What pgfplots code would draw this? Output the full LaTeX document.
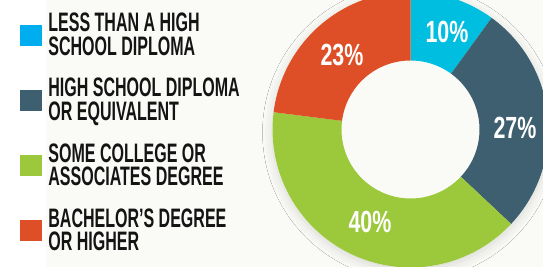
\documentclass[border=0pt]{standalone}
\usepackage{pgfplots}
\pgfplotsset{compat=1.18}
\usepackage{pgfplotstable}
\usepackage{fontspec}
\setmainfont{Liberation Sans}
\newfontfamily\legfont{Liberation Sans}[FakeStretch=0.60]
\newfontfamily\pctfont{Liberation Sans}[FakeStretch=0.70]
\usetikzlibrary{shadows.blur}

\definecolor{bg}{HTML}{FAFBF6}
\definecolor{pcyan}{HTML}{00BEE0}
\definecolor{lcyan}{HTML}{00ADEE}
\definecolor{cslate}{HTML}{3E5F70}
\definecolor{cgreen}{HTML}{9CC83B}
\definecolor{corange}{HTML}{DE4F27}
\definecolor{ink}{HTML}{141414}

% shares of each group, in percent (clockwise from the top)
\pgfplotstableread{
pct
10
27
40
23
}\shares

\pgfplotstablegetelem{0}{pct}\of\shares\edef\pA{\pgfplotsretval}
\pgfplotstablegetelem{1}{pct}\of\shares\edef\pB{\pgfplotsretval}
\pgfplotstablegetelem{2}{pct}\of\shares\edef\pC{\pgfplotsretval}
\pgfplotstablegetelem{3}{pct}\of\shares\edef\pD{\pgfplotsretval}
\pgfmathsetmacro\cA{\pA}
\pgfmathsetmacro\cB{\cA+\pB}
\pgfmathsetmacro\cC{\cB+\pC}
\pgfmathsetmacro\cD{\cC+\pD}

\def\cx{410.5}\def\cy{137.5}\def\ro{138}\def\ri{69}

% ring sector from percentage #2 to percentage #3
\newcommand\slice[3]{%
  \addplot[fill=#1, draw=none, forget plot, samples at={0,1,...,60,100,101,...,160}, variable=\t]
   ({\cx + (\t<80 ? \ro : \ri)*cos(90-3.6*(#2+(#3-#2)*(\t<80 ? \t/60 : (160-\t)/60)))},
    {\cy + (\t<80 ? \ro : \ri)*sin(90-3.6*(#2+(#3-#2)*(\t<80 ? \t/60 : (160-\t)/60)))});
}

\begin{document}
\begin{tikzpicture}
\begin{axis}[
  width=543bp, height=267bp, scale only axis,
  xmin=0, xmax=543, ymin=0, ymax=267,
  hide axis, clip=true,
  legend style={at={(axis cs:20,253.7)}, anchor=north west, draw=none, fill=none,
    inner sep=0pt, outer sep=0pt, row sep=21.6bp, column sep=7.3bp,
    nodes={inner sep=0pt, outer sep=0pt, align=left, text=ink,
      font=\legfont\bfseries\fontsize{26.8}{23.4}\selectfont}},
  legend cell align=left,
  legend image code/.code={\fill[#1] (0bp,-10.3bp) rectangle (20.7bp,10.3bp);},
]
% background
\addplot[fill=bg, draw=none, forget plot] coordinates {(0,0) (543,0) (543,267) (0,267)};
\addplot[fill=white, draw=none, forget plot] coordinates {(0,0) (46,0) (46,267) (0,267)};
% shadow disc under the ring
\addplot[fill=bg, draw=none, forget plot,
  blur shadow={shadow xshift=0bp, shadow yshift=-3bp, shadow blur radius=10bp, shadow opacity=14},
  samples at={0,...,120}, variable=\t]
  ({\cx+\ro*cos(3*\t)},{\cy+\ro*sin(3*\t)});
% ring sectors
\slice{pcyan}{0}{\cA}
\slice{cslate}{\cA}{\cB}
\slice{cgreen}{\cB}{\cC}
\slice{corange}{\cC}{\cD}
% legend
\addlegendimage{lcyan}
\addlegendentry{LESS THAN A HIGH\\SCHOOL DIPLOMA}
\addlegendimage{cslate}
\addlegendentry{HIGH SCHOOL DIPLOMA\\OR EQUIVALENT}
\addlegendimage{cgreen}
\addlegendentry{SOME COLLEGE OR\\ASSOCIATES DEGREE}
\addlegendimage{corange}
\addlegendentry{BACHELOR’S DEGREE\\OR HIGHER}
% value labels
\begin{scope}[every node/.style={text=white, font=\pctfont\bfseries\fontsize{30.7}{32}\selectfont, inner sep=0pt}]
\node at (axis cs:447,235) {\pA\%};
\node at (axis cs:515,139) {\pB\%};
\node at (axis cs:370,45) {\pC\%};
\node at (axis cs:342,212) {\pD\%};
\end{scope}
\end{axis}
\end{tikzpicture}
\end{document}
